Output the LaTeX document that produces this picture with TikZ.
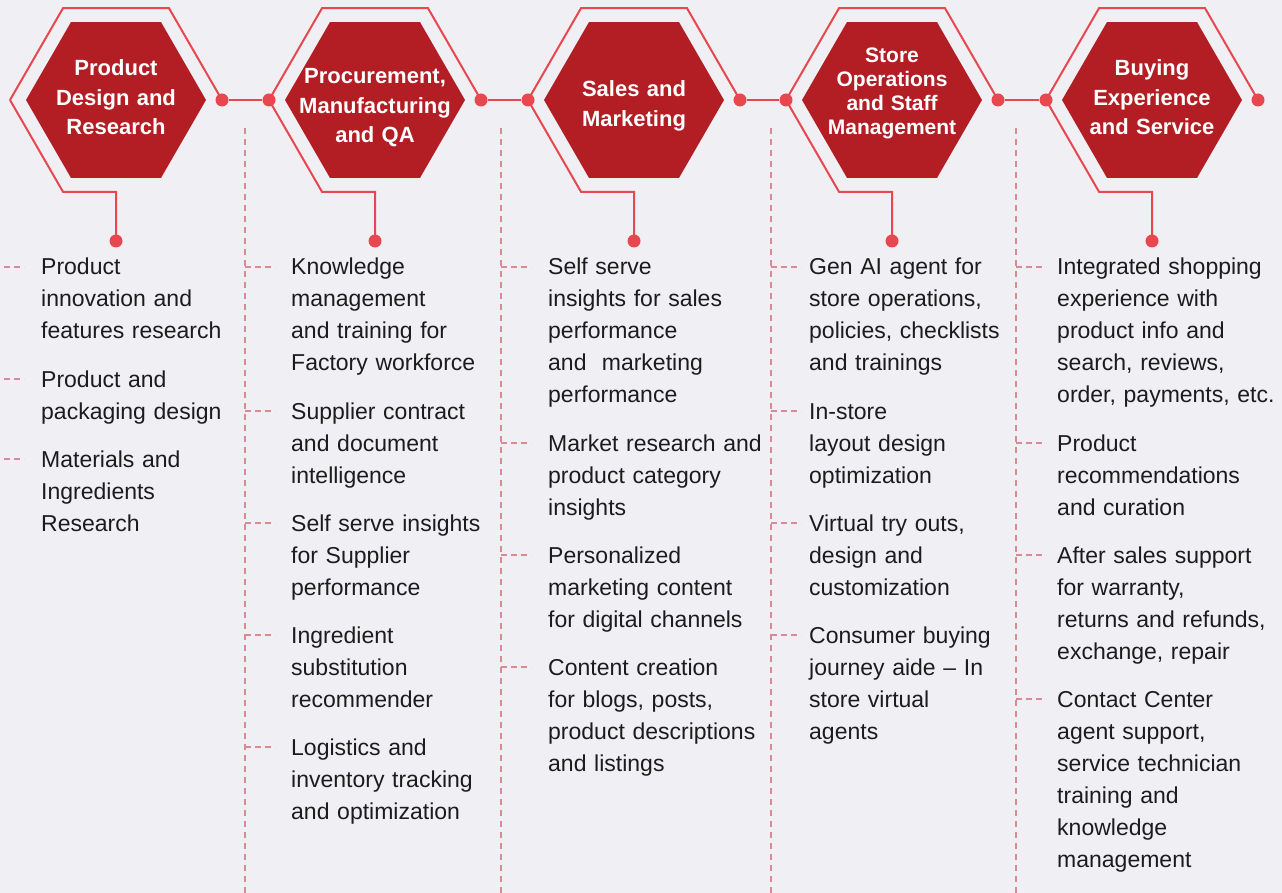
\documentclass[tikz,border=0pt]{standalone}
\usepackage{fontspec}
\setmainfont{Liberation Sans}
\usetikzlibrary{shapes.geometric}
\definecolor{RetailBg}{HTML}{F0F0F4}
\definecolor{RetailHex}{HTML}{B31E25}
\definecolor{RetailRing}{HTML}{E8474F}
\definecolor{RetailGuide}{HTML}{DA8A92}
\definecolor{RetailInk}{HTML}{1C1C1C}

\begin{document}
\begin{tikzpicture}[x=1pt, y=-1pt,
        hexcore/.style={regular polygon, regular polygon sides=6, minimum size=180pt, inner sep=0pt, fill=RetailHex, draw=none},
        hexlbl/.style={text width=180pt, align=center, anchor=base, inner sep=0pt, text=white, font=\bfseries\fontsize{22}{29.5}\selectfont},
        ring/.style={draw=RetailRing, line width=2pt},
        dot/.style={circle, fill=RetailRing, minimum size=13pt, inner sep=0pt},
        guide/.style={draw=RetailGuide, line width=2pt, dash pattern=on 6pt off 5pt},
        tick/.style={draw=RetailGuide, line width=2pt, dash pattern=on 6pt off 4pt},
        item/.style={text width=250pt, align=left, anchor=base west, inner sep=0pt, text=RetailInk, font=\fontsize{23}{32}\selectfont}
    ]
        \fill[RetailBg] (0,0) rectangle (1282,893);
        \useasboundingbox (0,0) rectangle (1282,893);

        % Hexagons
        \node[hexcore] (design) at (116,100) {};
        \node[hexcore] (procure) at (375,100) {};
        \node[hexcore] (sales) at (634,100) {};
        \node[hexcore] (store) at (892,100) {};
        \node[hexcore] (buying) at (1152,100) {};

        \node[hexlbl] (designlbl) at (116,76) {Product\\Design and\\Research};
        \node[hexlbl] (procurelbl) at (375,84) {Procurement,\\Manufacturing\\and QA};
        \node[hexlbl] (saleslbl) at (634,97) {Sales and\\Marketing};
        \node[hexlbl, font=\bfseries\fontsize{21}{24}\selectfont] (storelbl) at (892,63) {Store\\Operations\\and Staff\\Management};
        \node[hexlbl] (buyinglbl) at (1152,76) {Buying\\Experience\\and Service};

        % Outer rings
        \draw[ring] (design.center) ++(-106,0) coordinate (design-w) -- ++(53,-91.8) -- ++(106,0) -- ++(53,91.8) coordinate (design-e);
        \draw[ring] (design-w) -- ++(53,91.8) -- ++(53,0) -- ++(0,49.2) coordinate (design-s);
        \draw[ring] (procure.center) ++(-106,0) coordinate (procure-w) -- ++(53,-91.8) -- ++(106,0) -- ++(53,91.8) coordinate (procure-e);
        \draw[ring] (procure-w) -- ++(53,91.8) -- ++(53,0) -- ++(0,49.2) coordinate (procure-s);
        \draw[ring] (sales.center) ++(-106,0) coordinate (sales-w) -- ++(53,-91.8) -- ++(106,0) -- ++(53,91.8) coordinate (sales-e);
        \draw[ring] (sales-w) -- ++(53,91.8) -- ++(53,0) -- ++(0,49.2) coordinate (sales-s);
        \draw[ring] (store.center) ++(-106,0) coordinate (store-w) -- ++(53,-91.8) -- ++(106,0) -- ++(53,91.8) coordinate (store-e);
        \draw[ring] (store-w) -- ++(53,91.8) -- ++(53,0) -- ++(0,49.2) coordinate (store-s);
        \draw[ring] (buying.center) ++(-106,0) coordinate (buying-w) -- ++(53,-91.8) -- ++(106,0) -- ++(53,91.8) coordinate (buying-e);
        \draw[ring] (buying-w) -- ++(53,91.8) -- ++(53,0) -- ++(0,49.2) coordinate (buying-s);

        \node[dot] (design-ed) at (design-e) {};
        \node[dot] (design-sd) at (design-s) {};
        \node[dot] (procure-wd) at (procure-w) {};
        \node[dot] (procure-ed) at (procure-e) {};
        \node[dot] (procure-sd) at (procure-s) {};
        \node[dot] (sales-wd) at (sales-w) {};
        \node[dot] (sales-ed) at (sales-e) {};
        \node[dot] (sales-sd) at (sales-s) {};
        \node[dot] (store-wd) at (store-w) {};
        \node[dot] (store-ed) at (store-e) {};
        \node[dot] (store-sd) at (store-s) {};
        \node[dot] (buying-wd) at (buying-w) {};
        \node[dot] (buying-ed) at (buying-e) {};
        \node[dot] (buying-sd) at (buying-s) {};

        \draw[ring] (design-ed) -- (procure-wd);
        \draw[ring] (procure-ed) -- (sales-wd);
        \draw[ring] (sales-ed) -- (store-wd);
        \draw[ring] (store-ed) -- (buying-wd);

        % Guide lines
        \coordinate (guide2) at (245,128);
        \coordinate (guide3) at (501,128);
        \coordinate (guide4) at (771,128);
        \coordinate (guide5) at (1016,128);
        \draw[guide] (guide2) -- ++(0,765);
        \draw[guide] (guide3) -- ++(0,765);
        \draw[guide] (guide4) -- ++(0,765);
        \draw[guide] (guide5) -- ++(0,765);

        % Product Design and Research
        \node[item] (innov) at (41,275) {Product\\innovation and\\features research};
        \node[item] (packaging) at (41,387) {Product and\\packaging design};
        \node[item] (materials) at (41,467) {Materials and\\Ingredients\\Research};

        % Procurement, Manufacturing and QA
        \node[item] (knowledge) at (291,275) {Knowledge\\management\\and training for\\Factory workforce};
        \node[item] (contract) at (291,419) {Supplier contract\\and document\\intelligence};
        \node[item] (supplier) at (291,531) {Self serve insights\\for Supplier\\performance};
        \node[item] (substitute) at (291,643) {Ingredient\\substitution\\recommender};
        \node[item] (logistics) at (291,755) {Logistics and\\inventory tracking\\and optimization};

        % Sales and Marketing
        \node[item] (selfserve) at (548,275) {Self serve\\insights for sales\\performance\\and\ \ marketing\\performance};
        \node[item] (market) at (548,451) {Market research and\\product category\\insights};
        \node[item] (personal) at (548,563) {Personalized\\marketing content\\for digital channels};
        \node[item] (content) at (548,675) {Content creation\\for blogs, posts,\\product descriptions\\and listings};

        % Store Operations and Staff Management
        \node[item] (genai) at (809,275) {Gen AI agent for\\store operations,\\policies, checklists\\and trainings};
        \node[item] (layout) at (809,419) {In-store\\layout design\\optimization};
        \node[item] (tryout) at (809,531) {Virtual try outs,\\design and\\customization};
        \node[item] (journey) at (809,643) {Consumer buying\\journey aide – In\\store virtual\\agents};

        % Buying Experience and Service
        \node[item] (shopping) at (1057,275) {Integrated shopping\\experience with\\product info and\\search, reviews,\\order, payments, etc.};
        \node[item] (recommend) at (1057,451) {Product\\recommendations\\and curation};
        \node[item] (aftersales) at (1057,563) {After sales support\\for warranty,\\returns and refunds,\\exchange, repair};
        \node[item] (contact) at (1057,707) {Contact Center\\agent support,\\service technician\\training and\\knowledge\\management};

        % Ticks
        \draw[tick] ([yshift=8pt]innov.base west) ++(-47,0) -- ++(30,0);
        \draw[tick] ([yshift=8pt]packaging.base west) ++(-47,0) -- ++(30,0);
        \draw[tick] ([yshift=8pt]materials.base west) ++(-47,0) -- ++(30,0);
        \draw[tick] ([yshift=8pt]knowledge.base west) ++(-46,0) -- ++(30,0);
        \draw[tick] ([yshift=8pt]contract.base west) ++(-46,0) -- ++(30,0);
        \draw[tick] ([yshift=8pt]supplier.base west) ++(-46,0) -- ++(30,0);
        \draw[tick] ([yshift=8pt]substitute.base west) ++(-46,0) -- ++(30,0);
        \draw[tick] ([yshift=8pt]logistics.base west) ++(-46,0) -- ++(30,0);
        \draw[tick] ([yshift=8pt]selfserve.base west) ++(-47,0) -- ++(30,0);
        \draw[tick] ([yshift=8pt]market.base west) ++(-47,0) -- ++(30,0);
        \draw[tick] ([yshift=8pt]personal.base west) ++(-47,0) -- ++(30,0);
        \draw[tick] ([yshift=8pt]content.base west) ++(-47,0) -- ++(30,0);
        \draw[tick] ([yshift=8pt]genai.base west) ++(-38,0) -- ++(30,0);
        \draw[tick] ([yshift=8pt]layout.base west) ++(-38,0) -- ++(30,0);
        \draw[tick] ([yshift=8pt]tryout.base west) ++(-38,0) -- ++(30,0);
        \draw[tick] ([yshift=8pt]journey.base west) ++(-38,0) -- ++(30,0);
        \draw[tick] ([yshift=8pt]shopping.base west) ++(-41,0) -- ++(30,0);
        \draw[tick] ([yshift=8pt]recommend.base west) ++(-41,0) -- ++(30,0);
        \draw[tick] ([yshift=8pt]aftersales.base west) ++(-41,0) -- ++(30,0);
        \draw[tick] ([yshift=8pt]contact.base west) ++(-41,0) -- ++(30,0);
    \end{tikzpicture}
\end{document}
